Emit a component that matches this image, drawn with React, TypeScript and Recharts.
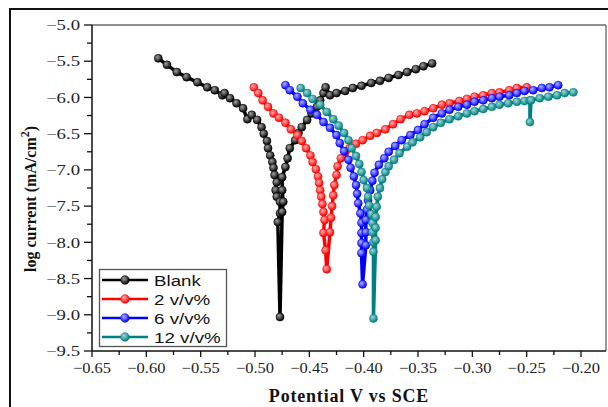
import React from "react";
import { LineChart, Line, XAxis, YAxis, ReferenceLine } from "recharts";

// potential (V vs SCE), cathodic branch first, then anodic
const blankE = [
  -0.589, -0.581, -0.572, -0.563, -0.553, -0.544, -0.537, -0.53, -0.528, -0.523,
  -0.517, -0.511, -0.507, -0.503, -0.498, -0.494, -0.492, -0.489, -0.488, -0.486,
  -0.484, -0.483, -0.482, -0.48, -0.481, -0.48, -0.477, -0.477, -0.479, -0.477,
  -0.475, -0.474, -0.475, -0.475, -0.472, -0.47, -0.468, -0.463, -0.46, -0.457,
  -0.452, -0.448, -0.443, -0.44, -0.437, -0.435, -0.431, -0.425, -0.417, -0.41,
  -0.402, -0.393, -0.385, -0.377, -0.368, -0.36, -0.352, -0.345, -0.337,
];
const blankLogI = [
  -5.46, -5.55, -5.65, -5.72, -5.79, -5.86, -5.9, -5.97, -5.94, -6.01,
  -6.08, -6.15, -6.3, -6.24, -6.31, -6.41, -6.5, -6.6, -6.7, -6.8,
  -6.89, -6.97, -7.07, -7.17, -7.28, -7.37, -7.44, -7.6, -7.72, -9.03,
  -7.58, -7.44, -7.28, -7.1, -6.96, -6.84, -6.7, -6.59, -6.49, -6.41,
  -6.31, -6.22, -6.13, -6.04, -5.94, -5.86, -5.97, -5.94, -5.91, -5.87,
  -5.84, -5.8, -5.77, -5.73, -5.69, -5.65, -5.61, -5.57, -5.53,
];

const v2E = [
  -0.501, -0.497, -0.493, -0.488, -0.483, -0.478, -0.472, -0.467, -0.461, -0.457,
  -0.453, -0.449, -0.447, -0.444, -0.442, -0.441, -0.44, -0.439, -0.438, -0.437,
  -0.436, -0.437, -0.435, -0.434,
  -0.431, -0.43, -0.429, -0.428, -0.427, -0.425, -0.424, -0.421, -0.417, -0.413,
  -0.407, -0.401, -0.394, -0.388, -0.38, -0.373, -0.366, -0.358, -0.351, -0.344,
  -0.336, -0.328, -0.321, -0.312, -0.305, -0.298, -0.29, -0.282, -0.275, -0.266,
  -0.259, -0.25,
];
const v2LogI = [
  -5.86, -5.94, -6.04, -6.13, -6.22, -6.28, -6.35, -6.44, -6.52, -6.6,
  -6.7, -6.8, -6.89, -6.99, -7.09, -7.18, -7.28, -7.37, -7.47, -7.58,
  -7.69, -7.87, -8.11, -8.37,
  -7.86, -7.66, -7.5, -7.35, -7.21, -7.07, -6.95, -6.84, -6.75, -6.7,
  -6.64, -6.59, -6.53, -6.49, -6.44, -6.37, -6.3, -6.24, -6.22, -6.19,
  -6.15, -6.1, -6.08, -6.05, -6.02, -5.99, -5.97, -5.94, -5.93, -5.9,
  -5.87, -5.86,
];

const v6E = [
  -0.472, -0.468, -0.461, -0.456, -0.449, -0.443, -0.437, -0.431, -0.425, -0.422,
  -0.418, -0.414, -0.412, -0.409, -0.407, -0.406, -0.405, -0.403, -0.402, -0.402,
  -0.402, -0.402, -0.401,
  -0.398, -0.398, -0.398, -0.397, -0.396, -0.394, -0.392, -0.39, -0.386, -0.381,
  -0.377, -0.371, -0.365, -0.357, -0.35, -0.344, -0.336, -0.328, -0.321, -0.313,
  -0.305, -0.298, -0.29, -0.282, -0.275, -0.266, -0.259, -0.252, -0.244, -0.236,
  -0.229, -0.221,
];
const v6LogI = [
  -5.83, -5.9, -5.99, -6.08, -6.17, -6.24, -6.34, -6.42, -6.52, -6.63,
  -6.74, -6.86, -6.97, -7.09, -7.21, -7.33, -7.46, -7.6, -7.73, -7.87,
  -8.01, -8.15, -8.58,
  -8.04, -7.86, -7.69, -7.55, -7.42, -7.28, -7.15, -7.04, -6.93, -6.84,
  -6.75, -6.67, -6.59, -6.52, -6.45, -6.37, -6.28, -6.22, -6.17, -6.13,
  -6.1, -6.06, -6.04, -6.01, -5.99, -5.97, -5.94, -5.91, -5.9, -5.87,
  -5.86, -5.83,
];

const v12E = [
  -0.458, -0.452, -0.447, -0.44, -0.434, -0.428, -0.423, -0.418, -0.414, -0.411,
  -0.407, -0.404, -0.402, -0.4, -0.397, -0.396, -0.395, -0.393, -0.392, -0.392,
  -0.391, -0.391, -0.391,
  -0.389, -0.389, -0.389, -0.388, -0.387, -0.385, -0.383, -0.38, -0.377, -0.372,
  -0.367, -0.36, -0.355, -0.348, -0.342, -0.336, -0.329, -0.321, -0.313, -0.305,
  -0.298, -0.29, -0.282, -0.275, -0.267, -0.259, -0.252, -0.247, -0.247, -0.246,
  -0.238, -0.23, -0.222, -0.215, -0.207,
];
const v12LogI = [
  -5.87, -5.94, -6.02, -6.1, -6.2, -6.3, -6.39, -6.49, -6.59, -6.7,
  -6.81, -6.92, -7.03, -7.14, -7.25, -7.37, -7.49, -7.61, -7.73, -7.86,
  -8.0, -8.13, -9.05,
  -7.97, -7.8, -7.65, -7.51, -7.37, -7.25, -7.13, -7.03, -6.95, -6.86,
  -6.77, -6.68, -6.62, -6.55, -6.48, -6.41, -6.35, -6.3, -6.26, -6.22,
  -6.19, -6.16, -6.13, -6.1, -6.08, -6.06, -6.05, -6.04, -6.34, -6.04,
  -6.01, -5.99, -5.97, -5.94, -5.93,
];

const xTicks = [
  -0.65, -0.625, -0.6, -0.575, -0.55, -0.525, -0.5, -0.475, -0.45, -0.425,
  -0.4, -0.375, -0.35, -0.325, -0.3, -0.275, -0.25, -0.225, -0.2,
];
const yTicks = [
  -9.5, -9.25, -9, -8.75, -8.5, -8.25, -8, -7.75, -7.5, -7.25,
  -7, -6.75, -6.5, -6.25, -6, -5.75, -5.5, -5.25, -5,
];

const toPoints = (e: number[], logI: number[]) => e.map((v, k) => ({ e: v, logI: logI[k] }));

const SERIES = [
  { id: "blank", name: "Blank", color: "#000000", hi: "#a0a0a0", data: toPoints(blankE, blankLogI) },
  { id: "v2", name: "2 v/v%", color: "#ff0000", hi: "#ffb0b0", data: toPoints(v2E, v2LogI) },
  { id: "v6", name: "6 v/v%", color: "#0000ff", hi: "#b0b0ff", data: toPoints(v6E, v6LogI) },
  { id: "v12", name: "12 v/v%", color: "#008080", hi: "#9fd6d6", data: toPoints(v12E, v12LogI) },
];

const SERIF = "'Liberation Serif', 'Times New Roman', serif";
const SANS = "'Liberation Sans', Arial, sans-serif";
const minus = (s: string) => s.replace("-", "\u2212");

const XTick = (props: any) => {
  const { x, y, payload } = props;
  const v = payload.value;
  const major = Math.abs(v * 20 - Math.round(v * 20)) < 1e-6;
  return (
    <g>
      <line x1={x} x2={x} y1={y} y2={y + (major ? 6 : 4)} stroke="#111" strokeWidth={1.3} />
      {major && (
        <text
          transform={`translate(${x},${y + 22}) scale(1.1,1)`}
          textAnchor="middle"
          fontFamily={SERIF}
          fontSize={15}
          fill="#222"
        >
          {minus(v.toFixed(2))}
        </text>
      )}
    </g>
  );
};

const YTick = (props: any) => {
  const { x, y, payload } = props;
  const v = payload.value;
  const major = Math.abs(v * 2 - Math.round(v * 2)) < 1e-6;
  return (
    <g>
      <line x1={x - (major ? 8 : 5)} x2={x} y1={y} y2={y} stroke="#111" strokeWidth={1.3} />
      {major && (
        <text
          transform={`translate(${x - 12},${y}) scale(1.25,1)`}
          dy="0.35em"
          textAnchor="end"
          fontFamily={SERIF}
          fontSize={15}
          fill="#222"
        >
          {minus(v.toFixed(1))}
        </text>
      )}
    </g>
  );
};

const legendRows = [280, 299, 318, 337];

export default function App() {
  return (
    <div style={{ position: "absolute", left: 0, top: 0, width: 608, height: 407, overflow: "hidden", background: "#fff" }}>
      <svg width={0} height={0} style={{ position: "absolute" }}>
        <defs>
          {SERIES.map((s) => (
            <radialGradient key={s.id} id={`ball-${s.id}`} cx="38%" cy="35%" r="65%">
              <stop offset="0%" stopColor={s.hi} />
              <stop offset="100%" stopColor={s.color} />
            </radialGradient>
          ))}
        </defs>
      </svg>
      <div style={{ position: "absolute", left: 9, top: 8, width: 640, height: 440, border: "2px solid #111" }} />
      <div style={{ position: "absolute", left: 0, top: 0 }}>
        <LineChart width={608} height={407} margin={{ top: 25, right: 2, left: 0, bottom: 0 }}>
          <XAxis
            dataKey="e"
            type="number"
            domain={[-0.65, -0.177]}
            allowDataOverflow
            ticks={xTicks}
            interval={0}
            tickSize={0}
            tickMargin={0}
            tickLine={false}
            tick={XTick}
            axisLine={{ stroke: "#111", strokeWidth: 1.5 }}
            height={56}
          />
          <YAxis
            dataKey="logI"
            type="number"
            domain={[-9.5, -5]}
            allowDataOverflow
            ticks={yTicks}
            interval={0}
            tickSize={0}
            tickMargin={0}
            tickLine={false}
            tick={YTick}
            axisLine={{ stroke: "#111", strokeWidth: 1.5 }}
            width={92}
          />
          <ReferenceLine y={-5} stroke="#222" strokeWidth={1.2} />
          <ReferenceLine x={-0.177} stroke="#555" strokeWidth={1.2} />
          {SERIES.map((s) => (
            <Line
              key={s.id}
              data={s.data}
              dataKey="logI"
              name={s.name}
              type="linear"
              stroke={s.color}
              strokeWidth={3.5}
              dot={{ r: 4, fill: `url(#ball-${s.id})`, stroke: s.color, strokeWidth: 0.6 }}
              activeDot={false}
              isAnimationActive={false}
            />
          ))}
        </LineChart>
      </div>
      <svg width={608} height={407} style={{ position: "absolute", left: 0, top: 0, pointerEvents: "none" }}>
        <text x={349} y={402} textAnchor="middle" fontFamily={SERIF} fontWeight="bold" fontSize={18} letterSpacing={0.8} fill="#111">
          Potential V vs SCE
        </text>
        <text transform="translate(36,199) rotate(-90)" textAnchor="middle" fontFamily={SERIF} fontWeight="bold" fontSize={16} fill="#111">
          log current (mA/cm<tspan dy={-7} fontSize={12}>2</tspan>
          <tspan dy={7}>)</tspan>
        </text>
        <rect x={99.5} y={269.5} width={127} height={77} fill="#fff" stroke="#555" strokeWidth={1.3} />
        {SERIES.map((s, k) => (
          <g key={s.id}>
            <line x1={102} x2={148} y1={legendRows[k]} y2={legendRows[k]} stroke={s.color} strokeWidth={2.5} />
            <circle cx={125} cy={legendRows[k]} r={4.3} fill={`url(#ball-${s.id})`} stroke={s.color} strokeWidth={0.6} />
            <text transform={`translate(154,${legendRows[k] + 5.5}) scale(1.25,1)`} fontFamily={SANS} fontSize={15} fill="#111">
              {s.name}
            </text>
          </g>
        ))}
      </svg>
    </div>
  );
}
